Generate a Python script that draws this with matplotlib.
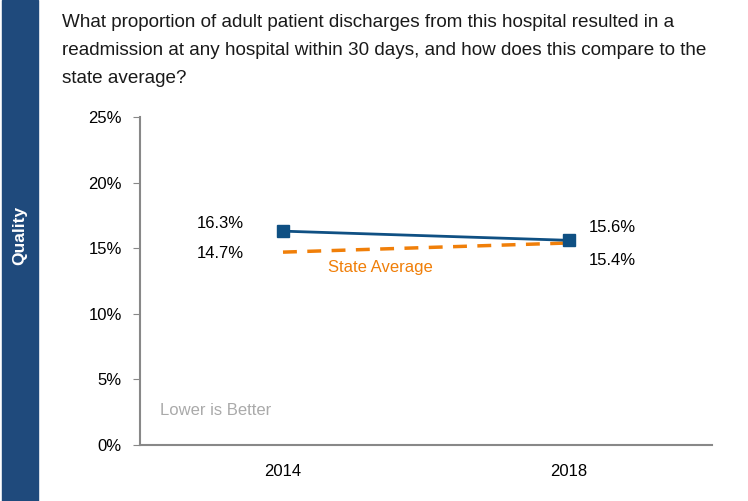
import matplotlib
matplotlib.use("Agg")
import matplotlib.pyplot as plt
from matplotlib.patches import Rectangle

plt.rcParams['font.family'] = ['Liberation Sans', 'DejaVu Sans']

years = ['2014', '2018']
hospital = [16.3, 15.6]
state_avg = [14.7, 15.4]
yticks = [0, 5, 10, 15, 20, 25]

title = ("What proportion of adult patient discharges from this hospital resulted in a\n"
         "readmission at any hospital within 30 days, and how does this compare to the\n"
         "state average?")

fig = plt.figure(figsize=(7.48, 5.01), dpi=100)

# sidebar
fig.patches.append(Rectangle((2 / 748, 0), 36 / 748, 1, transform=fig.transFigure,
                             color='#1f4a7c', zorder=0))
fig.text(20 / 748, 1 - 235 / 501, 'Quality', rotation=90, color='white', fontsize=12.5,
         fontweight='bold', ha='center', va='center')

fig.text(62 / 748, 1 - 14 / 501, title, fontsize=13.6, ha='left', va='top', linespacing=1.85,
         color='#1a1a1a')

ax = fig.add_axes([140 / 748, 56 / 501, 572 / 748, 328 / 501])
x = [0, 1]
ax.plot(x, state_avg, color='#f07f09', lw=2.5, ls=(0, (4, 3)), zorder=2)
ax.plot(x, hospital, color='#0f5083', lw=2, marker='s', ms=9, zorder=3)

ax.set_xlim(-0.5, 1.5)
ax.set_ylim(0, 25)
ax.set_yticks(yticks)
ax.set_yticklabels([f'{v}%' for v in yticks])
ax.set_xticks(x)
ax.set_xticklabels(years)
ax.tick_params(axis='y', length=5, color='#888888', labelsize=12, pad=8, direction='out')
ax.tick_params(axis='x', length=0, labelsize=12, pad=14)
for s in ['top', 'right']:
    ax.spines[s].set_visible(False)
for s in ['left', 'bottom']:
    ax.spines[s].set_color('#888888')
    ax.spines[s].set_linewidth(1.5)

# value labels
ax.text(-0.22, hospital[0] + 0.6, f'{hospital[0]}%', fontsize=12, ha='center', va='center')
ax.text(-0.22, state_avg[0] - 0.1, f'{state_avg[0]}%', fontsize=12, ha='center', va='center')
ax.text(1.15, hospital[1] + 1.0, f'{hospital[1]}%', fontsize=12, ha='center', va='center')
ax.text(1.15, state_avg[1] - 1.3, f'{state_avg[1]}%', fontsize=12, ha='center', va='center')
ax.text(0.34, 13.5, 'State Average', color='#f07f09', fontsize=12, ha='center', va='center')
ax.text(-0.43, 2.6, 'Lower is Better', color='#aaaaaa', fontsize=12, ha='left', va='center')

fig.savefig('out.png', dpi=100)
